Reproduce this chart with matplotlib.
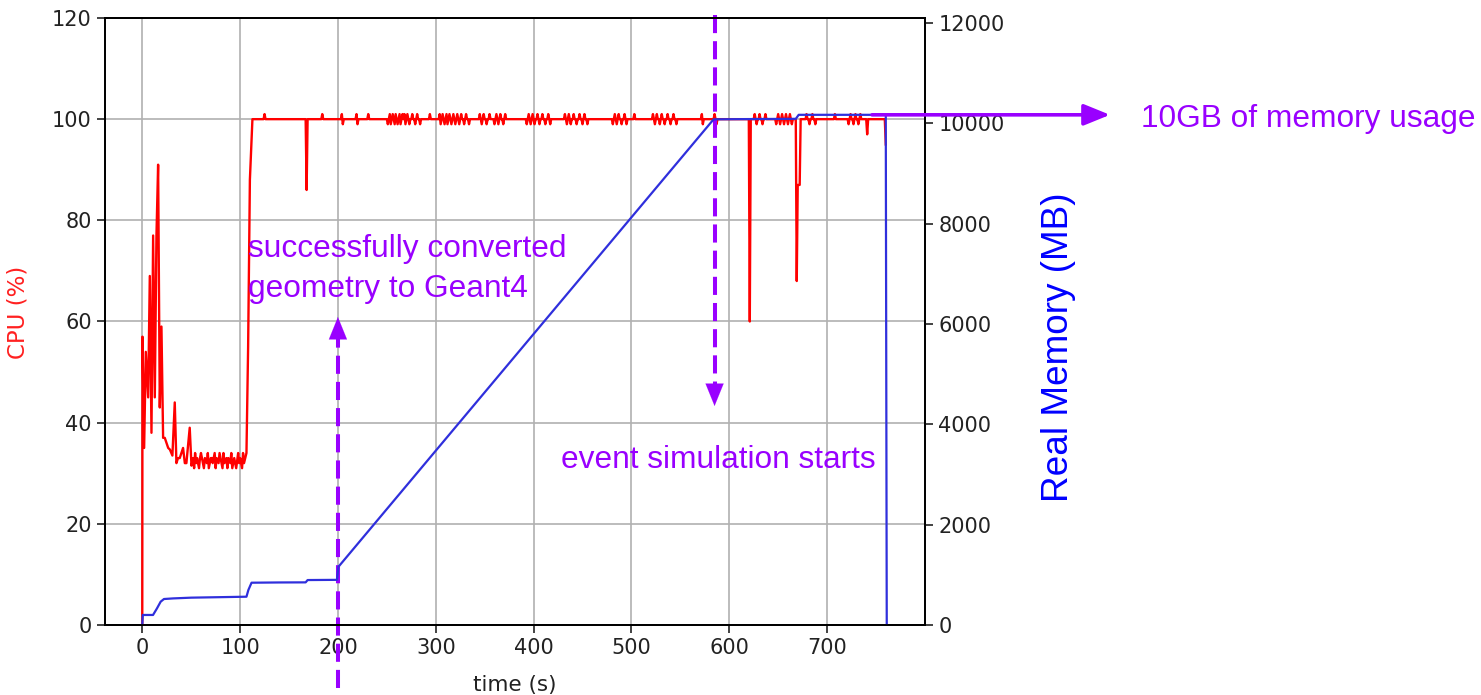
"""CPU and memory profile of a Geant4 geometry conversion + event simulation run."""

import matplotlib

matplotlib.use("Agg")
import matplotlib.pyplot as plt
from matplotlib.transforms import blended_transform_factory

# ---- data -----------------------------------------------------------------
# CPU (%) during start-up and geometry conversion (time in s)
cpu_start_t = [0, 0.2, 1.9, 3.6, 6.0, 7.7, 9.4, 11.1, 12.8, 14.5, 16.2, 17.9, 19.6, 21.3,
               23, 24.7, 26.5, 28.2, 30.8, 33.2, 34.9, 36.5, 38.3, 40, 41.7, 43.5, 45.1, 48.5,
               50.3, 52, 53, 54, 55, 56, 58, 59, 60, 62, 63, 64, 66, 67, 68, 70, 71, 72, 74,
               75, 76, 78, 79, 80, 82, 83, 84, 86, 87, 88, 90, 91, 92, 94, 95, 96, 98, 99,
               100, 102, 103, 104, 106.5, 108.2, 110, 112.6]
cpu_start_v = [0, 57, 35, 54, 45, 69, 38, 77, 45, 77, 91, 43, 59, 37,
               37, 36, 35, 34.7, 33.5, 44, 32, 33, 33, 34, 35, 32, 32, 39,
               31.5, 33, 31, 34, 32, 33, 31, 33, 34, 32, 31, 33, 32, 34, 31, 33, 33, 32, 34,
               31, 33, 32, 34, 33, 31, 34, 32, 33, 31, 33, 32, 34, 31, 33, 32, 31, 34, 32,
               33, 31, 34, 32, 34, 55, 88, 100]

# CPU plateau, sampled once per second; samples not listed sit at the plateau level
cpu_plateau_level = 100
cpu_plateau_range = (113, 760)
cpu_event_t = [125, 168, 184, 204, 205, 219, 220, 231,
               251, 253, 254, 256, 258, 259, 261, 263, 264, 266, 268, 269, 271, 273, 276, 279, 281, 284,
               294,
               304, 305, 307, 309, 311, 312, 314, 316, 318, 320, 322, 324, 326, 329, 331, 334,
               345, 347, 349, 352, 355, 360, 362, 364, 366, 369, 371,
               393, 395, 397, 399, 401, 404, 406, 409, 412, 415, 417,
               432, 434, 436, 438, 441, 444, 447, 450, 452, 455,
               481, 483, 485, 487, 490, 493, 495, 503,
               522, 524, 526, 529, 531, 534, 537, 540, 543, 546,
               572, 573, 585, 587, 621,
               626, 628, 631, 634, 637,
               648, 650, 652, 654, 656, 658, 660, 662, 664,
               669, 670, 671, 672,
               679, 682, 685, 688, 708,
               722, 724, 727, 729, 732, 734, 741, 760]
cpu_event_v = [101, 86, 101, 101, 99, 101, 99, 101,
               99, 101, 99, 101, 99, 101, 99, 101, 99, 101, 101, 99, 101, 99, 101, 99, 101, 99,
               101,
               101, 99, 101, 99, 101, 99, 101, 99, 101, 99, 101, 99, 101, 99, 101, 99,
               101, 99, 101, 99, 101, 99, 101, 99, 101, 99, 101,
               99, 101, 99, 101, 99, 101, 99, 101, 99, 101, 99,
               101, 99, 101, 99, 101, 99, 101, 99, 101, 99,
               99, 101, 99, 101, 99, 101, 99, 101,
               101, 99, 101, 99, 101, 99, 101, 99, 101, 99,
               101, 99, 101, 99, 60,
               101, 99, 101, 99, 101,
               99, 101, 99, 101, 99, 101, 99, 101, 99,
               68, 87, 87, 87,
               101, 99, 101, 99, 101,
               99, 101, 99, 101, 99, 101, 97, 95]

# Real memory (MB)
mem_t = [0, 0.5, 11, 15, 18.8, 22.2, 31.5, 50, 80, 106.5, 108.5, 111.7, 140, 167, 169, 199,
         200.5, 584, 620, 668, 671, 760, 761]
mem_v = [0, 200, 200, 330, 465, 518, 530, 545, 555, 564, 700, 843, 848, 850, 896, 900,
         1160, 10080, 10085, 10090, 10170, 10170, 0]

x_ticks = [0, 100, 200, 300, 400, 500, 600, 700]
cpu_ticks = [0, 20, 40, 60, 80, 100, 120]
mem_ticks = [0, 2000, 4000, 6000, 8000, 10000, 12000]

conversion_done_t = 200
simulation_start_t = 585

# ---- build the CPU series ---------------------------------------------------
events = dict(zip(cpu_event_t, cpu_event_v))
cpu_t = list(cpu_start_t)
cpu_v = list(cpu_start_v)
for sec in range(cpu_plateau_range[0], cpu_plateau_range[1] + 1):
    cpu_t.append(sec)
    cpu_v.append(events.get(sec, cpu_plateau_level))

# ---- figure -----------------------------------------------------------------
W, H = 1481, 695
PURPLE = "#9900ff"
ANNOT_FONT = dict(family=["Liberation Sans", "DejaVu Sans"], size=22.8, color=PURPLE)

fig = plt.figure(figsize=(W / 100, H / 100), dpi=100)
ax1 = fig.add_axes([105 / W, 1 - 625 / H, 820 / W, 607 / H])
ax2 = ax1.twinx()

ax1.plot(cpu_t, cpu_v, color="#ff0000", linewidth=1.7)
ax2.plot(mem_t, mem_v, color="#2f2fdc", linewidth=1.6)

ax1.set_xlim(-38.1, 800.1)
ax1.set_ylim(0, 120)
ax2.set_ylim(0, 12100)
ax1.set_xticks(x_ticks)
ax1.set_yticks(cpu_ticks)
ax2.set_yticks(mem_ticks)

ax1.grid(True, color="#b0b0b0", linewidth=1.2)
for ax in (ax1, ax2):
    ax.tick_params(labelsize=15, length=6, width=1.2, colors="#222222", labelcolor="#222222")
    for spine in ax.spines.values():
        spine.set_linewidth(1.3)

ax1.set_xlabel("time (s)", fontsize=15.5, color="#222222", labelpad=12)
ax1.set_ylabel("CPU (%)", fontsize=16.5, color="#ff2020")
ax1.yaxis.label.set(rotation_mode="default", ha="center", va="center")
ax1.yaxis.set_label_coords(-0.106, 0.515)

ax2.set_ylabel("Real Memory (MB)", fontdict=dict(ANNOT_FONT, size=26.6, color="#0000ff"))
ax2.yaxis.label.set(rotation_mode="default", ha="center", va="center")
ax2.yaxis.set_label_coords((1058 - 105) / 820, (625 - 347) / 607)

# ---- annotations -------------------------------------------------------------
data_x_fig_y = blended_transform_factory(ax1.transData, fig.transFigure)
mem_y_fig_x = blended_transform_factory(fig.transFigure, ax2.transData)
dash_style = dict(color=PURPLE, linewidth=2.9, linestyle=(0, (4.5, 2)), clip_on=False)
head_style = dict(arrowstyle="-|>,head_length=1.6,head_width=0.65", color=PURPLE,
                  linewidth=0.1, shrinkA=0, shrinkB=0)


def fy(py):
    """Figure fraction from a pixel row measured from the top."""
    return 1 - py / H


# geometry conversion finished: dashed arrow pointing up
ax1.plot([conversion_done_t, conversion_done_t], [fy(688), fy(338)], transform=data_x_fig_y, **dash_style)
ax1.annotate("", xy=(conversion_done_t, fy(317)), xycoords=data_x_fig_y,
             xytext=(conversion_done_t, fy(342)), textcoords=data_x_fig_y,
             arrowprops=head_style, annotation_clip=False)
fig.text(248 / W, fy(257), "successfully converted", ha="left", va="baseline", **ANNOT_FONT)
fig.text(248 / W, fy(297), "geometry to Geant4", ha="left", va="baseline", **ANNOT_FONT)

# event simulation start: dashed arrow pointing down
ax1.plot([simulation_start_t, simulation_start_t], [fy(15), fy(385)], transform=data_x_fig_y, **dash_style)
ax1.annotate("", xy=(simulation_start_t, fy(406)), xycoords=data_x_fig_y,
             xytext=(simulation_start_t, fy(382)), textcoords=data_x_fig_y,
             arrowprops=head_style, annotation_clip=False)
fig.text(561 / W, fy(468), "event simulation starts", ha="left", va="baseline", **ANNOT_FONT)

# peak memory: solid arrow to the right
mem_peak = max(mem_v)
ax2.annotate("", xy=(1110 / W, mem_peak), xycoords=mem_y_fig_x,
             xytext=(872 / W, mem_peak), textcoords=mem_y_fig_x,
             arrowprops=dict(arrowstyle="-|>,head_length=1.6,head_width=0.65", color=PURPLE,
                             linewidth=2.6, shrinkA=0, shrinkB=0),
             annotation_clip=False)
fig.text(1141 / W, fy(127.5), "10GB of memory usage", ha="left", va="baseline", **ANNOT_FONT)

fig.savefig("out.png", dpi=100)
